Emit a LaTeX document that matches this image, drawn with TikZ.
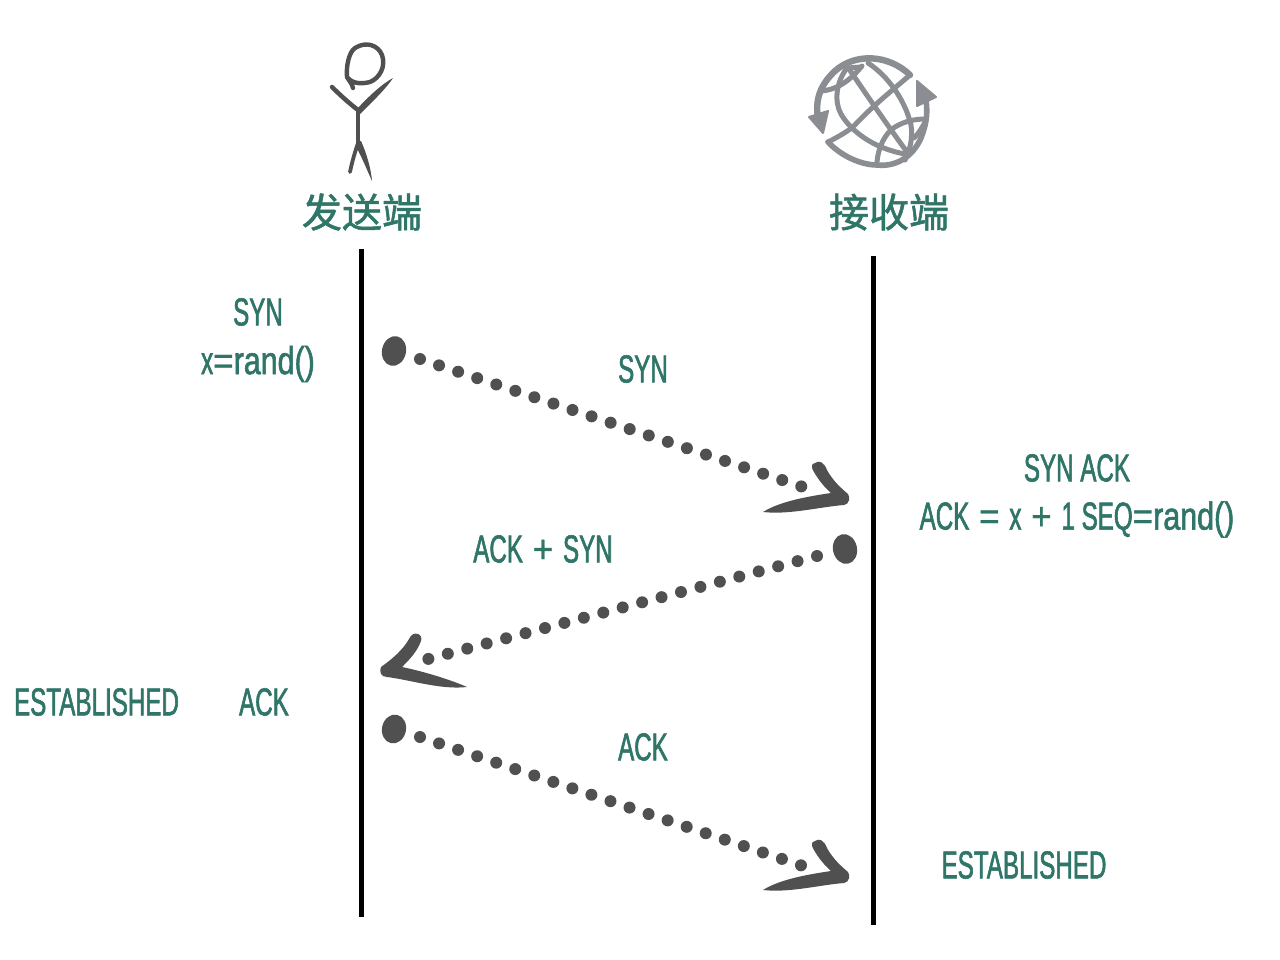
\documentclass[tikz,border=0pt]{standalone}
\usepackage{fontspec}
\setmainfont[FakeStretch=0.62,FakeBold=1.5]{Liberation Sans}
\newfontfamily\midf[FakeStretch=0.78,FakeBold=1.5]{Liberation Sans}
\newfontfamily\widef[FakeStretch=0.9,FakeBold=1.0]{Liberation Sans}
\newfontfamily\cjkfont[FakeBold=1.4]{Noto Sans CJK SC}
\definecolor{tealtxt}{HTML}{2F7568}
\definecolor{ink}{HTML}{505050}
\definecolor{globegray}{HTML}{8A8D91}
\usetikzlibrary{shapes.geometric}
\tikzset{
  x=1pt,y=-1pt,
  label/.style={text=tealtxt,font=\fontsize{39}{50}\selectfont,align=center,inner sep=0pt},
  title/.style={text=tealtxt,font=\cjkfont\fontsize{40}{45}\selectfont,inner sep=0pt},
  lifeline/.style={line width=4.6pt,black},
  dots/.style={ink,line width=12pt,line cap=round,dash pattern=on 0pt off 20.1pt},
  blob/.style={ellipse,fill=ink,inner sep=0pt,minimum width=24pt,minimum height=30pt},
  stick/.style={draw=ink,line width=4.5pt,line cap=round,line join=round},
  globe/.style={draw=globegray,line width=5pt,line cap=round,line join=round},
  pics/rarrow/.style={code={
    \fill[ink] (-34,-38) .. controls (-30,-41) and (-25,-39) .. (-22,-31)
      .. controls (-16,-20) and (-8,-13) .. (-1,-7)
      .. controls (1,-4) and (1,3) .. (-5,4)
      .. controls (-30,6) and (-60,14) .. (-86,11)
      .. controls (-70,1) and (-45,-4) .. (-18,-8)
      .. controls (-25,-14) and (-33,-24) .. (-37,-33)
      .. controls (-38,-35) and (-37,-37) .. (-34,-38) -- cycle;}},
  pics/larrow/.style={code={
    \fill[ink] (37,-38) .. controls (34,-39) and (30,-38) .. (28,-33)
      .. controls (22,-22) and (10,-12) .. (0,-5)
      .. controls (-2,0) and (0,5) .. (6,5)
      .. controls (30,8) and (60,18) .. (86,15)
      .. controls (70,8) and (45,0) .. (21,-5)
      .. controls (28,-12) and (36,-20) .. (40,-31)
      .. controls (41,-34) and (40,-37) .. (37,-38) -- cycle;}},
}
\begin{document}
\begin{tikzpicture}
\useasboundingbox (0,0) rectangle (1280,960);
\fill[white] (0,0) rectangle (1280,960);

% sender figure
\draw[stick,line width=4.4pt] (353,88) .. controls (352,83) and (349,81) .. (347,77)
  .. controls (346,66) and (349,52) .. (355,48)
  .. controls (366,41) and (378,45) .. (382,55)
  .. controls (386,66) and (380,78) .. (370,82)
  .. controls (362,84) and (353,84) .. (348,78);
\draw[stick] (332,87) .. controls (340,95) and (350,104) .. (358,110);
\fill[ink] (393,78) .. controls (382,84) and (369,96) .. (357,109)
  -- (360,114) .. controls (370,104) and (385,90) .. (393,78) -- cycle;
\draw[stick,line width=4pt] (358,110) -- (358,145);
\draw[stick,line width=3.8pt] (358,143) .. controls (355,152) and (352,162) .. (350,172);
\fill[ink] (356,142) -- (361,141) .. controls (366,152) and (371,168) .. (372,181)
  .. controls (367,170) and (361,155) .. (356,147) -- cycle;

% receiver globe: outer band
\draw[globe,line width=6.4pt] (818,118) .. controls (815,100) and (820,85) .. (835,71)
  .. controls (855,53) and (888,54) .. (910,75);
\draw[globe] (910,75) .. controls (895,88) and (870,108) .. (853,127)
  .. controls (845,133) and (836,138) .. (828,142);
\draw[globe,line width=5.6pt] (828,142) .. controls (840,155) and (860,165) .. (877,165)
  .. controls (895,167) and (912,158) .. (921,138)
  .. controls (926,125) and (928,115) .. (926,100);
\fill[globegray,draw=globegray,line width=2pt,line join=round] (809,117) -- (828,111) -- (823,133) -- cycle;
\fill[globegray,draw=globegray,line width=2pt,line join=round] (917,81) -- (936,97) -- (917,106) -- cycle;
% meridians
\draw[globe] (849,69) .. controls (860,85) and (880,115) .. (907,152);
\draw[globe] (847,68) .. controls (836,82) and (834,102) .. (841,114)
  .. controls (850,130) and (872,148) .. (905,154);
\draw[globe] (868,63) .. controls (888,76) and (905,100) .. (911,125)
  .. controls (913,138) and (910,150) .. (905,160);
% small latitudes
\draw[globe] (821,91) .. controls (835,90) and (848,83) .. (862,66);
\draw[globe] (848,68) -- (861,67);
\draw[globe] (877,162) .. controls (878,148) and (885,133) .. (895,127)
  .. controls (905,121) and (915,119) .. (926,119);
\draw[globe] (925,122) .. controls (922,128) and (919,133) .. (914,138);

% titles
\node[title] (sendertitle) at (362,212) {发送端};
\node[title] (receivertitle) at (889,212) {接收端};

% lifelines
\coordinate (senderTop) at (361.5,249);
\coordinate (senderBottom) at (361.5,917);
\coordinate (receiverTop) at (873,256);
\coordinate (receiverBottom) at (873,925);
\draw[lifeline] (senderTop) -- (senderBottom);
\draw[lifeline,line width=5pt] (receiverTop) -- (receiverBottom);

% message 1
\node[blob,rotate=-12] (synStart) at (394,351) {};
\coordinate (synA) at (420,359);
\coordinate (synB) at (803,487);
\draw[dots] (synA) -- (synB);
\pic at (849,501) {rarrow};

% message 2
\node[blob,rotate=12] (ackStart) at (845,549) {};
\coordinate (ackA) at (817,556);
\coordinate (ackB) at (428,659);
\draw[dots] (ackA) -- (ackB);
\pic at (381,672) {larrow};

% message 3
\node[blob,rotate=-12,minimum height=29pt] (lastStart) at (394,729) {};
\coordinate (lastA) at (420,737);
\coordinate (lastB) at (803,866);
\draw[dots] (lastA) -- (lastB);
\pic at (849,879) {rarrow};

% labels
\node[label] (l1) at (258,312) {SYN};
\node[label] (l2) at (258,364) {x{\widef =}{\midf rand()}};
\node[label] (l3) at (643,369) {SYN};
\node[label] (l4) at (1077,468) {SYN ACK};
\node[label] (l5) at (1077,519.5) {ACK{\widef{} = }x{\widef{} + }1 SEQ{\widef =}{\midf rand()}};
\node[label] (l6) at (543,549) {ACK{\widef{} + }SYN};
\node[label] (l7) at (96.5,702) {ESTABLISHED};
\node[label] (l8) at (264,702) {ACK};
\node[label] (l9) at (643,747) {ACK};
\node[label] (l10) at (1024,865) {ESTABLISHED};
\end{tikzpicture}
\end{document}
